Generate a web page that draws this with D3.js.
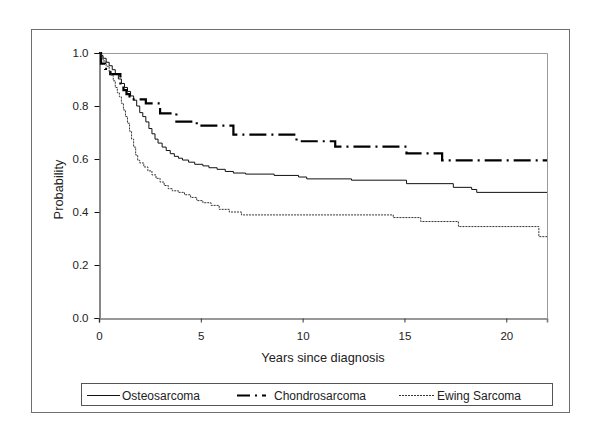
<!DOCTYPE html>
<html>
<head>
<meta charset="utf-8">
<script src="https://cdn.jsdelivr.net/npm/d3@7/dist/d3.min.js"></script>
<style>
  html, body { margin: 0; padding: 0; background: #fff; }
  svg { display: block; }
  text { font-family: "Liberation Sans", Arial, sans-serif; fill: #222; }
</style>
</head>
<body>
<svg id="chart" width="600" height="432"></svg>
<script>
// ---- Data ----
const seriesNames = ["Osteosarcoma", "Chondrosarcoma", "Ewing Sarcoma"];

const osteoTime = [0, 0.1, 0.2, 0.35, 0.5, 0.65, 0.8, 0.95, 1.1, 1.25, 1.4, 1.55, 1.7, 1.85, 2.0, 2.15, 2.3, 2.45, 2.6, 2.75, 2.9, 3.1, 3.3, 3.5, 3.7, 3.9, 4.1, 4.4, 4.7, 5.1, 5.4, 5.8, 6.2, 6.6, 7.2, 8.6, 9.8, 10.2, 12.4, 15.1, 17.4, 18.3, 18.55];
const osteoSurv = [1.0, 0.99, 0.98, 0.965, 0.952, 0.937, 0.92, 0.902, 0.885, 0.87, 0.855, 0.838, 0.822, 0.8, 0.775, 0.76, 0.74, 0.715, 0.695, 0.675, 0.66, 0.645, 0.632, 0.62, 0.61, 0.603, 0.596, 0.588, 0.58, 0.574, 0.567, 0.561, 0.553, 0.547, 0.543, 0.538, 0.532, 0.525, 0.520, 0.507, 0.493, 0.485, 0.474];

const chondroTime = [0, 0.1, 0.3, 0.55, 1.05, 1.2, 1.35, 1.5, 2.3, 3.0, 3.8, 4.8, 6.6, 9.7, 11.6, 15.1, 16.85];
const chondroSurv = [1.0, 0.96, 0.94, 0.92, 0.88, 0.86, 0.845, 0.825, 0.81, 0.772, 0.741, 0.726, 0.692, 0.667, 0.647, 0.621, 0.595];

const ewingTime = [0, 0.1, 0.2, 0.35, 0.5, 0.6, 0.7, 0.8, 0.9, 1.0, 1.1, 1.2, 1.3, 1.4, 1.5, 1.6, 1.7, 1.8, 1.9, 2.0, 2.2, 2.4, 2.6, 2.8, 3.0, 3.2, 3.4, 3.6, 3.9, 4.2, 4.5, 4.8, 5.1, 5.5, 5.9, 6.4, 7.0, 14.45, 15.8, 17.65, 21.6];
const ewingSurv = [1.0, 0.985, 0.97, 0.95, 0.93, 0.915, 0.895, 0.87, 0.85, 0.835, 0.81, 0.785, 0.76, 0.735, 0.705, 0.675, 0.645, 0.615, 0.595, 0.585, 0.57, 0.555, 0.54, 0.527, 0.513, 0.5, 0.488, 0.48, 0.474, 0.465, 0.455, 0.443, 0.435, 0.425, 0.41, 0.4, 0.389, 0.379, 0.364, 0.345, 0.307];

const xTicks = [0, 5, 10, 15, 20];
const yTicks = [0.0, 0.2, 0.4, 0.6, 0.8, 1.0];
const xMax = 22;

const xLabel = "Years since diagnosis";
const yLabel = "Probability";

// ---- Layout ----
const svg = d3.select("#chart");
const plot = { left: 99, right: 547, top: 53, bottom: 318 };

const x = d3.scaleLinear().domain([0, xMax]).range([plot.left, plot.right]);
const y = d3.scaleLinear().domain([0, 1]).range([plot.bottom, plot.top]);

// outer border
svg.append("rect")
  .attr("x", 31.5).attr("y", 29.5).attr("width", 538).attr("height", 383)
  .attr("fill", "none").attr("stroke", "#6e6e6e").attr("stroke-width", 1);

// plot frame (top & right gray)
svg.append("path")
  .attr("d", `M${plot.left},${plot.top + 0.5}H${plot.right + 0.5}V${plot.bottom}`)
  .attr("fill", "none").attr("stroke", "#999").attr("stroke-width", 1);

// series
function mk(ts, ps) {
  const pts = ts.map((t, i) => [t, ps[i]]);
  pts.push([xMax, ps[ps.length - 1]]);
  return pts;
}
const line = d3.line().x(d => x(d[0])).y(d => y(d[1])).curve(d3.curveStepAfter);

const series = [
  { name: seriesNames[0], data: mk(osteoTime, osteoSurv), stroke: "#111", width: 1, dash: null },
  { name: seriesNames[1], data: mk(chondroTime, chondroSurv), stroke: "#000", width: 2.2, dash: "17,5,2,5" },
  { name: seriesNames[2], data: mk(ewingTime, ewingSurv), stroke: "#333", width: 1, dash: "2,1" }
];

const clip = svg.append("clipPath").attr("id", "clip").append("rect")
  .attr("x", plot.left).attr("y", plot.top - 2).attr("width", plot.right - plot.left).attr("height", plot.bottom - plot.top + 2);

const g = svg.append("g").attr("clip-path", "url(#clip)");
series.forEach(s => {
  g.append("path")
    .attr("d", line(s.data))
    .attr("fill", "none")
    .attr("stroke", s.stroke)
    .attr("stroke-width", s.width)
    .attr("stroke-dasharray", s.dash);
});

// y axis
const yAxis = d3.axisLeft(y).tickValues(yTicks).tickFormat(d3.format(".1f")).tickSizeOuter(0).tickSize(5).tickPadding(6);
const ya = svg.append("g").attr("transform", `translate(${plot.left + 0.5},0)`).call(yAxis);
ya.select(".domain").attr("stroke", "#111");
ya.selectAll(".tick line").attr("stroke", "#111");
ya.selectAll(".tick text").style("font-size", "11.5px").style("font-family", "Liberation Sans, Arial, sans-serif").attr("fill", "#222");

// x axis
const xAxis = d3.axisBottom(x).tickValues(xTicks).tickFormat(d3.format("d")).tickSizeOuter(0).tickSize(4).tickPadding(9);
const xa = svg.append("g").attr("transform", `translate(0,${plot.bottom + 0.5})`).call(xAxis);
xa.select(".domain").attr("stroke", "#777").attr("stroke-width", 1.6);
xa.selectAll(".tick line").attr("stroke", "#333");
xa.selectAll(".tick text").style("font-size", "11.5px").style("font-family", "Liberation Sans, Arial, sans-serif").attr("fill", "#222");

// axis titles
svg.append("text")
  .attr("x", (plot.left + plot.right) / 2).attr("y", 362)
  .attr("text-anchor", "middle").style("font-size", "12.8px")
  .text(xLabel);

svg.append("text")
  .attr("transform", `translate(62.5,${(plot.top + plot.bottom) / 2 + 4}) rotate(-90)`)
  .attr("text-anchor", "middle").style("font-size", "12.8px")
  .text(yLabel);

// legend
svg.append("rect")
  .attr("x", 81.5).attr("y", 383.5).attr("width", 471).attr("height", 22)
  .attr("fill", "#fff").attr("stroke", "#555").attr("stroke-width", 1);

const legendItems = [
  { x1: 87, x2: 120, tx: 122 },
  { x1: 237, x2: 273, tx: 274 },
  { x1: 399, x2: 435, tx: 437 }
];
const ly = 395;
series.forEach((s, i) => {
  const it = legendItems[i];
  svg.append("line")
    .attr("x1", it.x1).attr("x2", it.x2).attr("y1", ly + 0.5).attr("y2", ly + 0.5)
    .attr("stroke", s.stroke).attr("stroke-width", s.width)
    .attr("stroke-dasharray", i === 1 ? "13,5,2,5,4" : s.dash);
  svg.append("text")
    .attr("x", it.tx).attr("y", ly + 4.5)
    .style("font-size", "12px")
    .text(s.name);
});
</script>
</body>
</html>
